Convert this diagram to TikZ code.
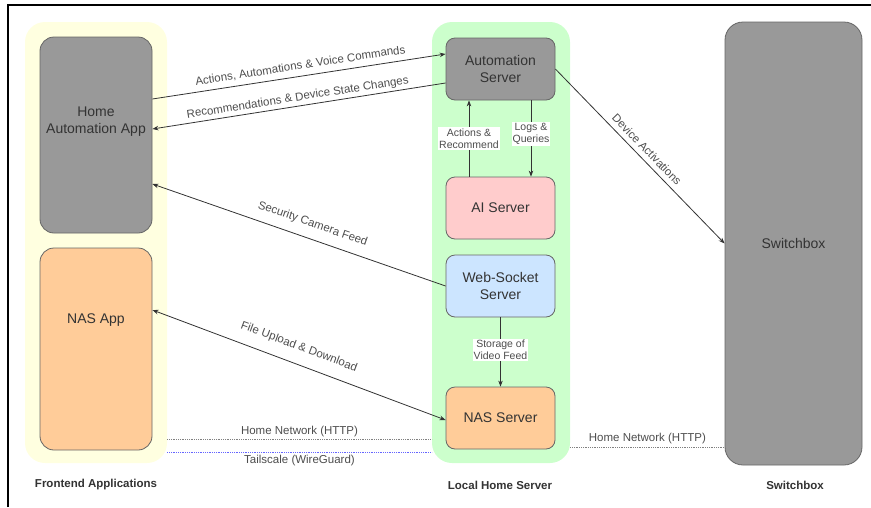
\documentclass[tikz,border=0pt]{standalone}
\usepackage{fontspec}
\setmainfont{Liberation Sans}
\usetikzlibrary{arrows.meta}
\definecolor{contY}{HTML}{FFFFE0}
\definecolor{contG}{HTML}{CCFFCC}
\definecolor{boxGray}{HTML}{999999}
\definecolor{boxPink}{HTML}{FFCCCC}
\definecolor{boxBlue}{HTML}{CCE5FF}
\definecolor{boxOrange}{HTML}{FFCC99}
\definecolor{edgeGray}{HTML}{666666}
\definecolor{txtDark}{HTML}{333333}
\definecolor{lblGray}{HTML}{4D4D4D}
\definecolor{netBlue}{HTML}{6666FF}
\tikzset{
  container/.style={rounded corners=20pt, inner sep=0pt, draw=none},
  svcbox/.style={rounded corners=9pt, draw=edgeGray, line width=0.8pt, inner sep=0pt,
    text=txtDark, align=center, font=\fontsize{14}{17}\selectfont},
  conn/.style={draw=txtDark, line width=0.8pt},
  tip/.style={-{Stealth[length=6pt,width=4.5pt]}},
  arrlbl/.style={font=\fontsize{11.5}{13}\selectfont, text=lblGray, inner sep=0pt},
  boxlbl/.style={font=\fontsize{10.5}{12.5}\selectfont, text=lblGray, fill=white,
    inner sep=1pt, align=center},
  netline/.style={densely dotted, line width=0.8pt},
  grplbl/.style={font=\bfseries\fontsize{11.5}{13}\selectfont, text=txtDark},
}

\begin{document}

\begin{tikzpicture}[x=1pt,y=-1pt]
\useasboundingbox (0,0) rectangle (871,507);
% frame
\draw[line width=2pt, black] (8,507) -- (8,5) -- (871,5);

% containers
\node[container, fill=contY, minimum width=142pt, minimum height=441pt] (fe) at (96,242.5) {};
\node[container, fill=contG, minimum width=138pt, minimum height=441pt] (lhs) at (501,242.5) {};
\node[svcbox, rounded corners=18pt, fill=boxGray, minimum width=137pt, minimum height=443pt] (sw) at (793.5,243.5) {Switchbox};

% frontend apps
\node[svcbox, rounded corners=14pt, fill=boxGray, minimum width=112pt, minimum height=196pt] (ha) at (96,135) {};
\node[text=txtDark, align=center, font=\fontsize{14}{17}\selectfont] (hat) at (96,122) {Home\\Automation App};
\node[svcbox, rounded corners=14pt, fill=boxOrange, minimum width=112pt, minimum height=202pt] (nasapp) at (96,349) {};
\node[text=txtDark, font=\fontsize{14}{17}\selectfont] (nasappt) at (96,320) {NAS App};

% local server boxes
\node[svcbox, fill=boxGray, minimum width=109pt, minimum height=62pt] (as) at (500.5,69) {Automation\\Server};
\node[svcbox, fill=boxPink, minimum width=109pt, minimum height=62pt] (ai) at (500.5,208) {AI Server};
\node[svcbox, fill=boxBlue, minimum width=109pt, minimum height=62pt] (ws) at (500.5,286) {Web-Socket\\Server};
\node[svcbox, fill=boxOrange, minimum width=109pt, minimum height=62pt] (nas) at (500.5,418) {NAS Server};

% connectors
\draw[conn, tip] ([yshift=36pt]ha.east) -- node[arrlbl, sloped, above=5pt, pos=0.51] {Actions, Automations \& Voice Commands} ([yshift=15pt]as.west);
\draw[conn, tip] ([yshift=-14pt]as.west) -- node[arrlbl, sloped, above=2.5pt, pos=0.5] {Recommendations \& Device State Changes} ([yshift=6pt]ha.east);
\draw[conn, tip] (ws.west) -- node[arrlbl, sloped, above=9pt, pos=0.47] {Security Camera Feed} ([yshift=-49pt]ha.east);
\draw[conn, {Stealth[length=6pt,width=4.5pt]}-{Stealth[length=6pt,width=4.5pt]}] ([yshift=39pt]nasapp.east) -- node[arrlbl, sloped, above=11pt, pos=0.48] {File Upload \& Download} ([yshift=-2pt]nas.west);
\draw[conn, tip] (as.east) -- node[arrlbl, sloped, above=5pt, pos=0.5] {Device Activations} (sw.west);
\draw[conn, tip] ([xshift=-31.5pt]ai.north) -- node[boxlbl, midway] {Actions \&\\Recommend} ([xshift=-31.5pt]as.south);
\draw[conn, tip] ([xshift=30.5pt]as.south) -- node[boxlbl, pos=0.44] {Logs \&\\Queries} ([xshift=30.5pt]ai.north);
\draw[conn, tip] (ws.south) -- node[boxlbl, pos=0.47] {Storage of\\Video Feed} (nas.north);

% network lines
\draw[netline, draw=gray] ([yshift=-196.5pt]fe.east) -- node[arrlbl, above=1.5pt] {Home Network (HTTP)} ([yshift=-196.5pt]lhs.west);
\draw[netline, draw=netBlue] ([yshift=-209.5pt]fe.east) -- node[arrlbl, below=3pt] {Tailscale (WireGuard)} ([yshift=-209.5pt]lhs.west);
\draw[netline, draw=gray] ([yshift=-205pt]lhs.east) -- node[arrlbl, above=3pt] {Home Network (HTTP)} ([yshift=-204pt]sw.west);

% group labels
\node[grplbl] (gfe) at (96,485) {Frontend Applications};
\node[grplbl] (glhs) at (500,485) {Local Home Server};
\node[grplbl] (gsw) at (795,485) {Switchbox};
\end{tikzpicture}

\end{document}
